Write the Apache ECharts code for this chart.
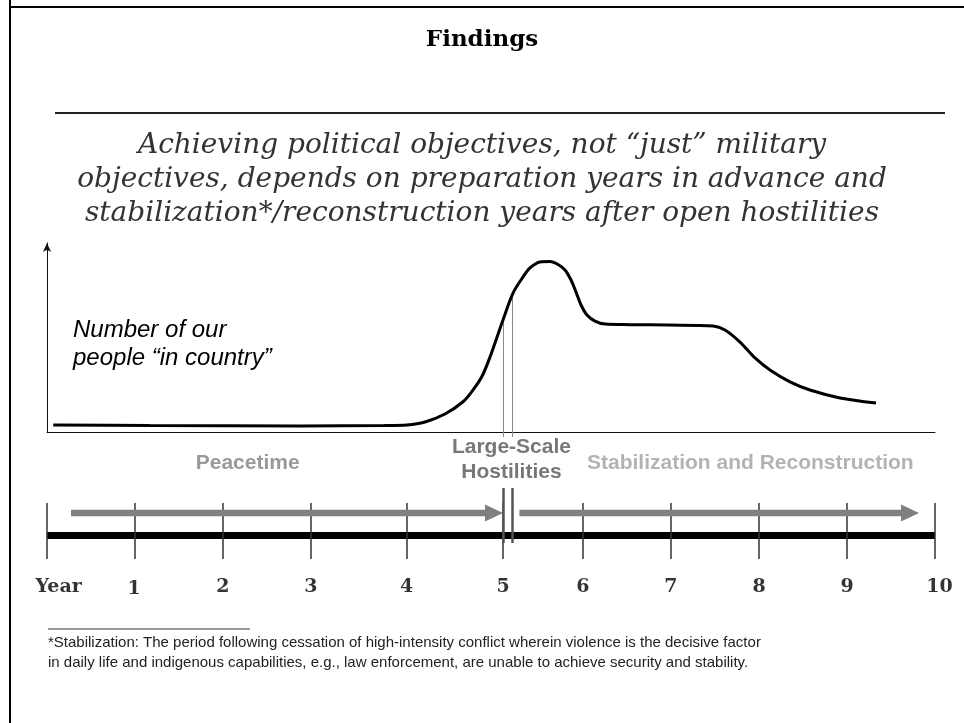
<!DOCTYPE html>
<html><head><meta charset="utf-8">
<script src="https://cdn.jsdelivr.net/npm/echarts@6/dist/echarts.min.js"></script>
<style>html,body{margin:0;padding:0;background:#fff}#c{width:964px;height:723px}</style>
</head><body><div id="c"></div>
<script>
// ---- data (x in "year" units of the drawn scale, y in relative level 0-100) ----
const curveX = [0.07, 1.16, 2.85, 3.8, 4.054, 4.257, 4.482, 4.685, 4.786, 4.899, 4.989, 5.135, 5.248, 5.36, 5.439, 5.552, 5.664, 5.755, 5.833, 5.901, 5.957, 6.014, 6.081, 6.171, 6.284, 6.565, 7.0, 7.5, 7.635, 7.804, 7.973, 8.142, 8.367, 8.592, 8.93, 9.336];
const curveY = [3.7, 3.4, 3.2, 3.4, 3.7, 5.3, 9.5, 16.0, 21.5, 29.5, 39.7, 59.3, 73.5, 82.0, 86.8, 90.0, 90.2, 88.6, 85.7, 80.4, 74.1, 67.2, 61.9, 58.7, 57.1, 56.8, 56.6, 56.1, 54.0, 47.6, 39.2, 32.8, 26.5, 22.2, 18.0, 15.3];
const hostilityX = [5.135, 5.235];
const hostilityTop = [59.3, 72.5];
const yearTickX = [0, 0.99, 1.98, 2.97, 4.05, 5.135, 6.035, 7.025, 8.015, 9.005, 10];
const yearLabels = ['Year', '1', '2', '3', '4', '5', '6', '7', '8', '9', '10'];
const yearLabelX = [0.13, 0.98, 1.98, 2.97, 4.05, 5.135, 6.035, 7.025, 8.02, 9.01, 10.05];
const phaseNames = ['Peacetime', 'Large-Scale\nHostilities', 'Stabilization and Reconstruction'];
const phaseLabelX = [2.26, 5.23, 7.92];
const phaseArrowStart = [0.27, 5.32];
const phaseArrowEnd = [5.135, 9.82];
const titleText = 'Findings';
const subtitleLines = [
  'Achieving political objectives, not \u201cjust\u201d military',
  'objectives, depends on preparation years in advance and',
  'stabilization*/reconstruction years after open hostilities'
];
const yLabelLines = ['Number of our', 'people \u201cin country\u201d'];
const footnoteLines = [
  '*Stabilization: The period following cessation of high-intensity conflict wherein violence is the decisive factor',
  'in daily life and indigenous capabilities, e.g., law enforcement, are unable to achieve security and stability.'
];

// ---- chart ----
const chart = echarts.init(document.getElementById('c'), null, {renderer: 'canvas'});
const SANS = '"Liberation Sans", Arial, sans-serif';
const SERIF = '"DejaVu Serif", serif';

const TL_LINE = 64.5, TICK_TOP = 97, TICK_BOT = 41, BAR_TOP = 112, BAR_BOT = 57, ARROW_Y = 87, YEAR_Y = 13, PHASE_Y = 137;

const graphic = [
  {type: 'line', shape: {x1: 10, y1: 0, x2: 10, y2: 723}, style: {stroke: '#000', lineWidth: 2}},
  {type: 'line', shape: {x1: 9, y1: 7, x2: 964, y2: 7}, style: {stroke: '#000', lineWidth: 2}},
  {type: 'text', x: 482, y: 40, style: {text: titleText, font: 'bold 23px ' + SERIF, fill: '#000', align: 'center', verticalAlign: 'middle'}},
  {type: 'line', shape: {x1: 55, y1: 113, x2: 945, y2: 113}, style: {stroke: '#222', lineWidth: 2}},
  {type: 'line', shape: {x1: 48, y1: 629, x2: 250, y2: 629}, style: {stroke: '#333', lineWidth: 1}}
];
subtitleLines.forEach((t, i) => graphic.push({type: 'text', x: 482, y: 146 + i * 34,
  style: {text: t, font: 'italic 28px ' + SERIF, fill: '#333', align: 'center', verticalAlign: 'middle'}}));
yLabelLines.forEach((t, i) => graphic.push({type: 'text', x: 73, y: 330 + i * 28,
  style: {text: t, font: 'italic 24px ' + SANS, fill: '#000', align: 'left', verticalAlign: 'middle'}}));
footnoteLines.forEach((t, i) => graphic.push({type: 'text', x: 48, y: 643 + i * 20,
  style: {text: t, font: '15px ' + SANS, fill: '#222', align: 'left', verticalAlign: 'middle'}}));

const phaseColors = ['#7f7f7f', '#555555', '#a0a0a0'];

chart.setOption({
  animation: false,
  backgroundColor: '#fff',
  graphic: graphic,
  grid: [
    {left: 47, right: 29, top: 243, bottom: 291},
    {left: 47, right: 29, top: 440, bottom: 123}
  ],
  xAxis: [
    {gridIndex: 0, type: 'value', min: 0, max: 10,
      axisLine: {show: true, lineStyle: {color: '#111', width: 1}},
      axisTick: {show: false}, axisLabel: {show: false}, splitLine: {show: false}},
    {gridIndex: 1, type: 'value', min: 0, max: 10, show: false}
  ],
  yAxis: [
    {gridIndex: 0, type: 'value', min: 0, max: 100,
      axisLine: {show: true, symbol: ['none', 'arrow'], symbolSize: [6, 9], lineStyle: {color: '#111', width: 1}},
      axisTick: {show: false}, axisLabel: {show: false}, splitLine: {show: false}},
    {gridIndex: 1, type: 'value', min: 0, max: 160, show: false}
  ],
  series: [
    {type: 'line', xAxisIndex: 0, yAxisIndex: 0, data: curveX.map((x, i) => [x, curveY[i]]),
      smooth: 0.3, showSymbol: false, lineStyle: {color: '#000', width: 3}, z: 5},
    {type: 'lines', coordinateSystem: 'cartesian2d', xAxisIndex: 0, yAxisIndex: 0, clip: false,
      data: hostilityX.map((x, i) => ({coords: [[x, hostilityTop[i]], [x, -2.6]]})),
      lineStyle: {color: '#8a8a8a', width: 1, opacity: 1}, z: 4},
    // timeline
    {type: 'lines', coordinateSystem: 'cartesian2d', xAxisIndex: 1, yAxisIndex: 1, clip: false,
      data: [{coords: [[0, TL_LINE], [10, TL_LINE]]}], lineStyle: {color: '#000', width: 7, opacity: 1}, z: 2},
    {type: 'lines', coordinateSystem: 'cartesian2d', xAxisIndex: 1, yAxisIndex: 1, clip: false,
      data: yearTickX.map(x => ({coords: [[x, TICK_TOP], [x, TICK_BOT]]})), lineStyle: {color: '#333', width: 1.5, opacity: 1}, z: 3},
    {type: 'lines', coordinateSystem: 'cartesian2d', xAxisIndex: 1, yAxisIndex: 1, clip: false,
      data: hostilityX.map(x => ({coords: [[x, BAR_TOP], [x, BAR_BOT]]})), lineStyle: {color: '#555', width: 2.5, opacity: 1}, z: 4},
    {type: 'custom', xAxisIndex: 1, yAxisIndex: 1, clip: false,
      data: phaseArrowStart.map((s, i) => [s, phaseArrowEnd[i], ARROW_Y]),
      encode: {x: [0, 1], y: 2},
      renderItem: function (params, api) {
        const p1 = api.coord([api.value(0), api.value(2)]);
        const p2 = api.coord([api.value(1), api.value(2)]);
        const hl = 18, hw = 8.5, bw = 3.2, xb = p2[0] - hl, y = p1[1];
        return {type: 'polygon', shape: {points: [[p1[0], y - bw], [xb, y - bw], [xb, y - hw], [p2[0], y], [xb, y + hw], [xb, y + bw], [p1[0], y + bw]]},
          style: {fill: '#808080'}};
      }, z: 3},
    {type: 'scatter', xAxisIndex: 1, yAxisIndex: 1, symbolSize: 0, silent: true, clip: false,
      data: yearLabelX.map((x, i) => ({value: [x, i === 1 ? YEAR_Y - 2 : YEAR_Y], name: yearLabels[i]})),
      label: {show: true, position: 'inside', formatter: p => p.name, color: '#000', fontFamily: SERIF, fontWeight: 'bold', fontSize: 19}},
    {type: 'scatter', xAxisIndex: 1, yAxisIndex: 1, symbolSize: 0, silent: true, clip: false,
      data: phaseLabelX.map((x, i) => ({value: [x, i === 1 ? 140 : PHASE_Y], name: phaseNames[i],
        label: {color: phaseColors[i]}})),
      label: {show: true, position: 'inside', formatter: p => p.name, fontFamily: SANS, fontWeight: 'bold', fontSize: 21, lineHeight: 25, align: 'center', verticalAlign: 'middle'}}
  ]
});
</script></body></html>
